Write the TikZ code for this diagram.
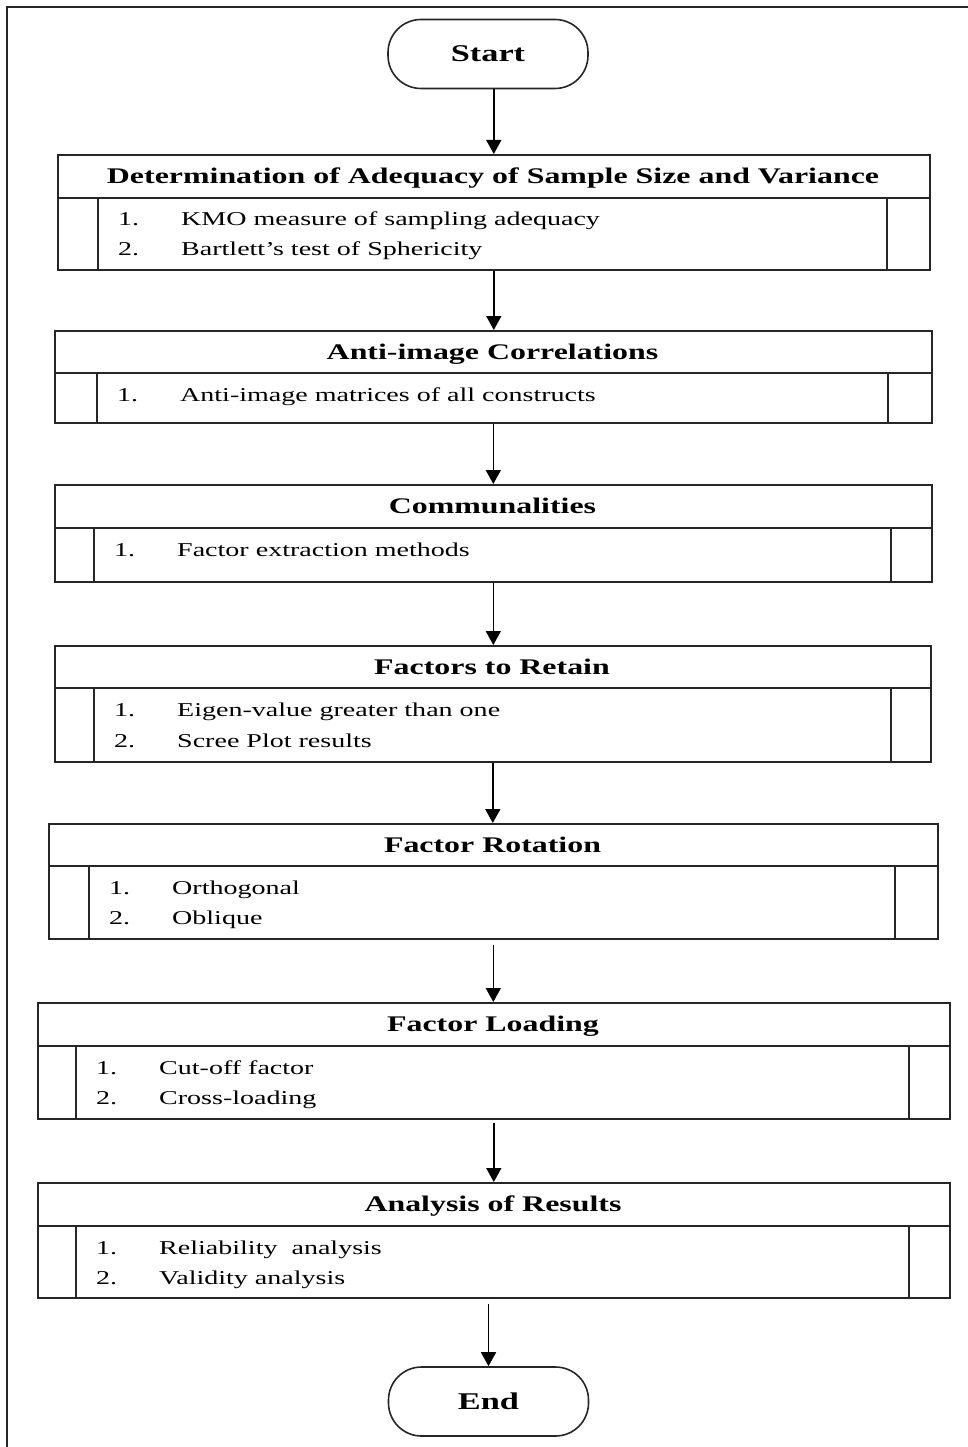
\documentclass[tikz,border=0pt]{standalone}
\usepackage{fontspec}
\setmainfont{Liberation Serif}[FakeStretch=1.43]
\usetikzlibrary{arrows.meta}

\tikzset{
  x=1pt, y=1pt,
  rule/.style={draw=black!85, line width=1.6pt},
  stagebox/.style={rule, rectangle, inner sep=0pt, fill=none},
  heading/.style={anchor=base, inner sep=0pt, font=\fontsize{22.3}{26}\selectfont\bfseries},
  itemfont/.style={anchor=base west, inner sep=0pt, font=\fontsize{19.6}{24}\selectfont},
  terminal/.style={rule, rectangle, rounded corners=33pt, minimum width=200pt,
    minimum height=69pt, inner sep=0pt, font=\fontsize{24}{28}\selectfont\bfseries},
  flow/.style={draw=black, line width=1.6pt, -{Triangle[width=15pt,length=14pt]}},
  frame/.style={draw=black!85, line width=2pt},
}

% stage box: name, left, right, top, divider, bottom, inner left, inner right, heading
\newcommand\stage[9]{%
  \node[stagebox, anchor=north west, minimum width={(#3-#2)*1pt},
        minimum height={(#6-#4)*1pt}] (#1) at (#2,-#4) {};
  \draw[rule] (#2,-#5) -- (#3,-#5);
  \draw[rule] (#7,-#5) -- (#7,-#6);
  \draw[rule] (#8,-#5) -- (#8,-#6);
  \node[heading] (#1-title) at ({(#2+#3)/2},{-(#4+#5)/2-7.5}) {#9};
}
% numbered entry: name, inner left edge, baseline, number, text
\newcommand\entry[5]{%
  \node[itemfont] (#1-n) at (#2+20,-#3) {#4};
  \node[itemfont] (#1-t) at (#2+83,-#3) {#5};
}

\begin{document}
\begin{tikzpicture}
\useasboundingbox (0,0) rectangle (968,-1447);

% page frame (top and left edges)
\draw[frame] (7,-1447) -- (7,-7) -- (968,-7);

\node[terminal] (start) at (488,-54) {Start};

\stage{b1}{57}{929}{154}{198}{269}{98}{887}{Determination of Adequacy of Sample Size and Variance}
\entry{b1a}{98}{226}{1.}{KMO measure of sampling adequacy}
\entry{b1b}{98}{255}{2.}{Bartlett’s test of Sphericity}

\stage{b2}{54}{931}{330}{373}{422}{97}{888}{Anti-image Correlations}
\entry{b2a}{97}{401}{1.}{Anti-image matrices of all constructs}

\stage{b3}{54}{931}{484}{528}{581}{94}{891}{Communalities}
\entry{b3a}{94}{556}{1.}{Factor extraction methods}

\stage{b4}{54}{930}{645}{688}{761}{94}{891}{Factors to Retain}
\entry{b4a}{94}{716}{1.}{Eigen-value greater than one}
\entry{b4b}{94}{747}{2.}{Scree Plot results}

\stage{b5}{48}{937}{823}{866}{938}{89}{895}{Factor Rotation}
\entry{b5a}{89}{894}{1.}{Orthogonal}
\entry{b5b}{89}{924}{2.}{Oblique}

\stage{b6}{37}{949}{1002}{1046}{1118}{76}{909}{Factor Loading}
\entry{b6a}{76}{1074}{1.}{Cut-off factor}
\entry{b6b}{76}{1104}{2.}{Cross-loading}

\stage{b7}{37}{949}{1182}{1226}{1297}{76}{909}{Analysis of Results}
\entry{b7a}{76}{1254}{1.}{Reliability\ \ analysis}
\entry{b7b}{76}{1284}{2.}{Validity analysis}

\node[terminal] (end) at (488.5,-1401.5) {End};

% connectors
\draw[flow] (b1.north |- start.south) -- (b1.north);
\draw[flow] (b1.south) -- (b1.south |- b2.north);
\draw[flow] (b2.south) -- (b2.south |- b3.north);
\draw[flow] (b3.south) -- (b3.south |- b4.north);
\draw[flow] (b4.south) -- (b4.south |- b5.north);
\draw[flow, shorten <=5pt] (b5.south) -- (b5.south |- b6.north);
\draw[flow, shorten <=3pt] (b6.south) -- (b6.south |- b7.north);
\draw[flow, shorten <=5pt] (b7.south -| end.north) -- (end.north);
\end{tikzpicture}
\end{document}
